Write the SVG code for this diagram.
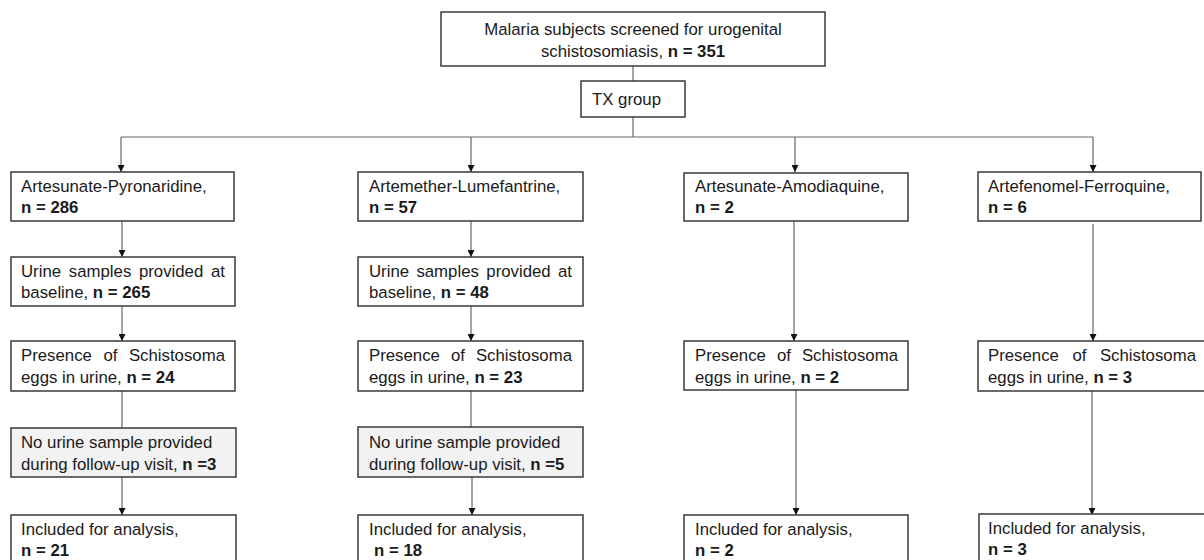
<svg xmlns="http://www.w3.org/2000/svg" width="1204" height="560" viewBox="0 0 1204 560">
<style>
.box{fill:#fff;stroke:#3a3a3a;stroke-width:1.5}
.grey{fill:#f2f2f2;stroke:#3a3a3a;stroke-width:1.5}
.ln{fill:none;stroke:#666;stroke-width:1.2}
text{font-family:"Liberation Sans",Arial,sans-serif;font-size:16.8px;fill:#1a1a1a}
.b{font-weight:bold}
.e{text-anchor:end}
.m{text-anchor:middle}
</style>
<defs>
<marker id="ah" viewBox="0 0 10 10" refX="10" refY="5" markerWidth="7" markerHeight="7" markerUnits="userSpaceOnUse" orient="auto">
<path d="M0,0 L10,5 L0,10 z" fill="#111"/>
</marker>
</defs>
<rect width="1204" height="560" fill="#fff"/>
<g id="connectors">
<path class="ln" d="M633,66 V81"/>
<path class="ln" d="M633,117 V137"/>
<path class="ln" d="M121,137 H1093"/>
<path class="ln" d="M121,137 V172" marker-end="url(#ah)"/>
<path class="ln" d="M471,137 V172" marker-end="url(#ah)"/>
<path class="ln" d="M795,137 V172" marker-end="url(#ah)"/>
<path class="ln" d="M1093,137 V172" marker-end="url(#ah)"/>
<path class="ln" d="M122,221 V257" marker-end="url(#ah)"/>
<path class="ln" d="M122,306 V341" marker-end="url(#ah)"/>
<path class="ln" d="M122,391 V428"/>
<path class="ln" d="M122,477 V515" marker-end="url(#ah)"/>
<path class="ln" d="M471,221 V257" marker-end="url(#ah)"/>
<path class="ln" d="M471,306 V341" marker-end="url(#ah)"/>
<path class="ln" d="M471,391 V428"/>
<path class="ln" d="M472,477 V515" marker-end="url(#ah)"/>
<path class="ln" d="M794,221 V341" marker-end="url(#ah)"/>
<path class="ln" d="M796,390 V515" marker-end="url(#ah)"/>
<path class="ln" d="M1093,224 V341" marker-end="url(#ah)"/>
<path class="ln" d="M1092,391 V515" marker-end="url(#ah)"/>
</g>
<g id="screened">
<rect class="box" x="441" y="12" width="384" height="54"/>
<text x="633" y="35" class="m">Malaria subjects screened for urogenital</text>
<text x="633" y="57" class="m">schistosomiasis, <tspan class="b">n = 351</tspan></text>
</g>
<g id="tx">
<rect class="box" x="581" y="81" width="104" height="36"/>
<text x="592" y="105">TX group</text>
</g>
<g id="ap">
<rect class="box" x="11" y="172" width="223" height="49"/>
<text x="21" y="192">Artesunate-Pyronaridine,</text>
<text x="21" y="213" class="b">n = 286</text>
</g>
<g id="al">
<rect class="box" x="358" y="172" width="225" height="49"/>
<text x="369" y="192">Artemether-Lumefantrine,</text>
<text x="369" y="213" class="b">n = 57</text>
</g>
<g id="aa">
<rect class="box" x="684" y="173" width="224" height="48"/>
<text x="695" y="192">Artesunate-Amodiaquine,</text>
<text x="695" y="213" class="b">n = 2</text>
</g>
<g id="af">
<rect class="box" x="978" y="172" width="223" height="49"/>
<text x="988" y="192">Artefenomel-Ferroquine,</text>
<text x="988" y="213" class="b">n = 6</text>
</g>
<g id="u1">
<rect class="box" x="11" y="257" width="224" height="49"/>
<text y="277"><tspan x="21">Urine</tspan><tspan x="68.8">samples</tspan><tspan x="138.9">provided</tspan><tspan x="225" class="e">at</tspan></text>
<text x="21" y="298">baseline, <tspan class="b">n = 265</tspan></text>
</g>
<g id="u2">
<rect class="box" x="358" y="257" width="225" height="49"/>
<text y="277"><tspan x="369">Urine</tspan><tspan x="416.4">samples</tspan><tspan x="486.3">provided</tspan><tspan x="572" class="e">at</tspan></text>
<text x="369" y="298">baseline, <tspan class="b">n = 48</tspan></text>
</g>
<g id="p1">
<rect class="box" x="11" y="341" width="224" height="50"/>
<text y="361"><tspan x="21">Presence</tspan><tspan x="110.4" class="m">of</tspan><tspan x="225" class="e">Schistosoma</tspan></text>
<text x="21" y="383">eggs in urine, <tspan class="b">n = 24</tspan></text>
</g>
<g id="p2">
<rect class="box" x="358" y="341" width="225" height="50"/>
<text y="361"><tspan x="369">Presence</tspan><tspan x="457.9" class="m">of</tspan><tspan x="572" class="e">Schistosoma</tspan></text>
<text x="369" y="383">eggs in urine, <tspan class="b">n = 23</tspan></text>
</g>
<g id="p3">
<rect class="box" x="684" y="341" width="224" height="49"/>
<text y="361"><tspan x="695">Presence</tspan><tspan x="783.9" class="m">of</tspan><tspan x="898" class="e">Schistosoma</tspan></text>
<text x="695" y="383">eggs in urine, <tspan class="b">n = 2</tspan></text>
</g>
<g id="p4">
<rect class="box" x="978" y="341" width="232" height="50"/>
<text y="361"><tspan x="988">Presence</tspan><tspan x="1079.4" class="m">of</tspan><tspan x="1196" class="e">Schistosoma</tspan></text>
<text x="988" y="383">eggs in urine, <tspan class="b">n = 3</tspan></text>
</g>
<g id="n1">
<rect class="grey" x="11" y="428" width="225" height="49"/>
<text x="21" y="448">No urine sample provided</text>
<text x="21" y="470">during follow-up visit, <tspan class="b">n =3</tspan></text>
</g>
<g id="n2">
<rect class="grey" x="358" y="427" width="225" height="50"/>
<text x="369" y="448">No urine sample provided</text>
<text x="369" y="470">during follow-up visit, <tspan class="b">n =5</tspan></text>
</g>
<g id="i1">
<rect class="box" x="11" y="515" width="225" height="60"/>
<text x="21" y="535">Included for analysis,</text>
<text x="21" y="556" class="b">n = 21</text>
</g>
<g id="i2">
<rect class="box" x="358" y="515" width="225" height="60"/>
<text x="369" y="535">Included for analysis,</text>
<text x="374" y="556" class="b">n = 18</text>
</g>
<g id="i3">
<rect class="box" x="684" y="515" width="224" height="60"/>
<text x="695" y="535">Included for analysis,</text>
<text x="695" y="556" class="b">n = 2</text>
</g>
<g id="i4">
<rect class="box" x="979" y="514" width="231" height="60"/>
<text x="988" y="534">Included for analysis,</text>
<text x="988" y="555" class="b">n = 3</text>
</g>
</svg>
